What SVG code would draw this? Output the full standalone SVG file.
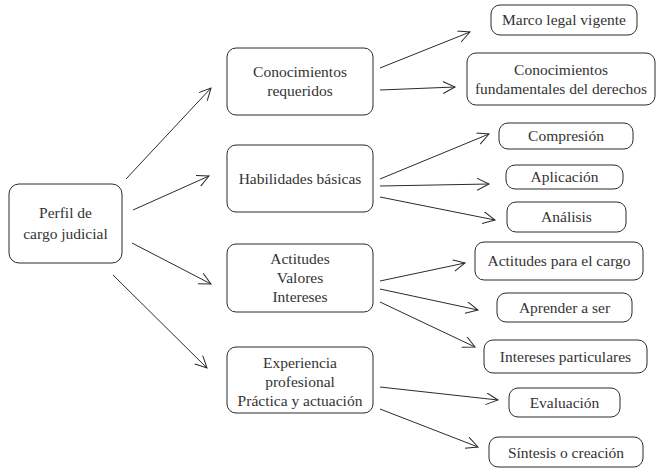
<svg xmlns="http://www.w3.org/2000/svg" width="657" height="468" viewBox="0 0 657 468">
<style>
.r{fill:#fff;stroke:#2b2b2b;stroke-width:1}
.t{font-family:"Liberation Serif",serif !important;font-size:15.5px;fill:#333;text-anchor:middle}
.c line{stroke:#2b2b2b;stroke-width:1;marker-end:url(#a)}
</style>
<defs>
<marker id="a" markerWidth="14" markerHeight="14" refX="12" refY="6" orient="auto" markerUnits="userSpaceOnUse">
<path d="M0,0 L12,6 L0,12" fill="none" stroke="#2b2b2b" stroke-width="1"/>
</marker>
</defs>
<rect x="0" y="0" width="657" height="468" fill="#fff"/>
<g id="perfil"><rect class="r" x="9" y="184" width="113" height="79" rx="10"/><text class="t" style="font-family:'Liberation Serif',serif" x="65.5" y="218">Perfil de</text><text class="t" style="font-family:'Liberation Serif',serif" x="65.5" y="239">cargo judicial</text></g>
<g id="conocimientos"><rect class="r" x="227" y="48" width="146" height="67" rx="9"/><text class="t" style="font-family:'Liberation Serif',serif" x="300" y="77">Conocimientos</text><text class="t" style="font-family:'Liberation Serif',serif" x="300" y="96">requeridos</text></g>
<g id="habilidades"><rect class="r" x="227" y="145" width="146" height="67" rx="9"/><text class="t" style="font-family:'Liberation Serif',serif" x="300" y="184">Habilidades básicas</text></g>
<g id="actitudes"><rect class="r" x="227" y="244" width="146" height="68" rx="9"/><text class="t" style="font-family:'Liberation Serif',serif" x="300" y="264">Actitudes</text><text class="t" style="font-family:'Liberation Serif',serif" x="300" y="283">Valores</text><text class="t" style="font-family:'Liberation Serif',serif" x="300" y="302">Intereses</text></g>
<g id="experiencia"><rect class="r" x="227" y="347" width="146" height="66" rx="9"/><text class="t" style="font-family:'Liberation Serif',serif" x="300" y="368">Experiencia</text><text class="t" style="font-family:'Liberation Serif',serif" x="300" y="387">profesional</text><text class="t" style="font-family:'Liberation Serif',serif" x="300" y="406">Práctica y actuación</text></g>
<g id="marco"><rect class="r" x="491" y="5" width="146" height="30" rx="9"/><text class="t" style="font-family:'Liberation Serif',serif" x="564" y="25">Marco legal vigente</text></g>
<g id="fundamentales"><rect class="r" x="467" y="53" width="188" height="52" rx="9"/><text class="t" style="font-family:'Liberation Serif',serif" x="561" y="75">Conocimientos</text><text class="t" style="font-family:'Liberation Serif',serif" x="561" y="94">fundamentales del derechos</text></g>
<g id="compresion"><rect class="r" x="499" y="123" width="134" height="26" rx="9"/><text class="t" style="font-family:'Liberation Serif',serif" x="566" y="141">Compresión</text></g>
<g id="aplicacion"><rect class="r" x="506" y="165" width="117" height="24" rx="9"/><text class="t" style="font-family:'Liberation Serif',serif" x="564.5" y="182">Aplicación</text></g>
<g id="analisis"><rect class="r" x="507" y="202" width="119" height="30" rx="9"/><text class="t" style="font-family:'Liberation Serif',serif" x="566.5" y="222">Análisis</text></g>
<g id="actitudes-cargo"><rect class="r" x="475" y="242" width="168" height="38" rx="9"/><text class="t" style="font-family:'Liberation Serif',serif" x="559" y="266">Actitudes para el cargo</text></g>
<g id="aprender"><rect class="r" x="497" y="293" width="135" height="29" rx="9"/><text class="t" style="font-family:'Liberation Serif',serif" x="564.5" y="313">Aprender a ser</text></g>
<g id="intereses"><rect class="r" x="484" y="340" width="163" height="33" rx="9"/><text class="t" style="font-family:'Liberation Serif',serif" x="565.5" y="362">Intereses particulares</text></g>
<g id="evaluacion"><rect class="r" x="509" y="388" width="111" height="29" rx="9"/><text class="t" style="font-family:'Liberation Serif',serif" x="564.5" y="408">Evaluación</text></g>
<g id="sintesis"><rect class="r" x="489" y="437" width="154" height="30" rx="9"/><text class="t" style="font-family:'Liberation Serif',serif" x="566" y="458">Síntesis o creación</text></g>
<g class="c" id="connectors">
<line x1="126" y1="179" x2="211" y2="88"/>
<line x1="133" y1="210" x2="209" y2="176"/>
<line x1="132" y1="243" x2="211" y2="284"/>
<line x1="113" y1="275" x2="207" y2="368"/>
<line x1="380" y1="68" x2="470" y2="32"/>
<line x1="380" y1="90" x2="455" y2="87"/>
<line x1="380" y1="179" x2="489" y2="134"/>
<line x1="380" y1="186" x2="489" y2="184"/>
<line x1="380" y1="197" x2="495" y2="220"/>
<line x1="380" y1="281" x2="465" y2="263"/>
<line x1="380" y1="289" x2="478" y2="310"/>
<line x1="380" y1="302" x2="475" y2="347"/>
<line x1="380" y1="387" x2="498" y2="400"/>
<line x1="380" y1="409" x2="478" y2="447"/>
</g>
</svg>
